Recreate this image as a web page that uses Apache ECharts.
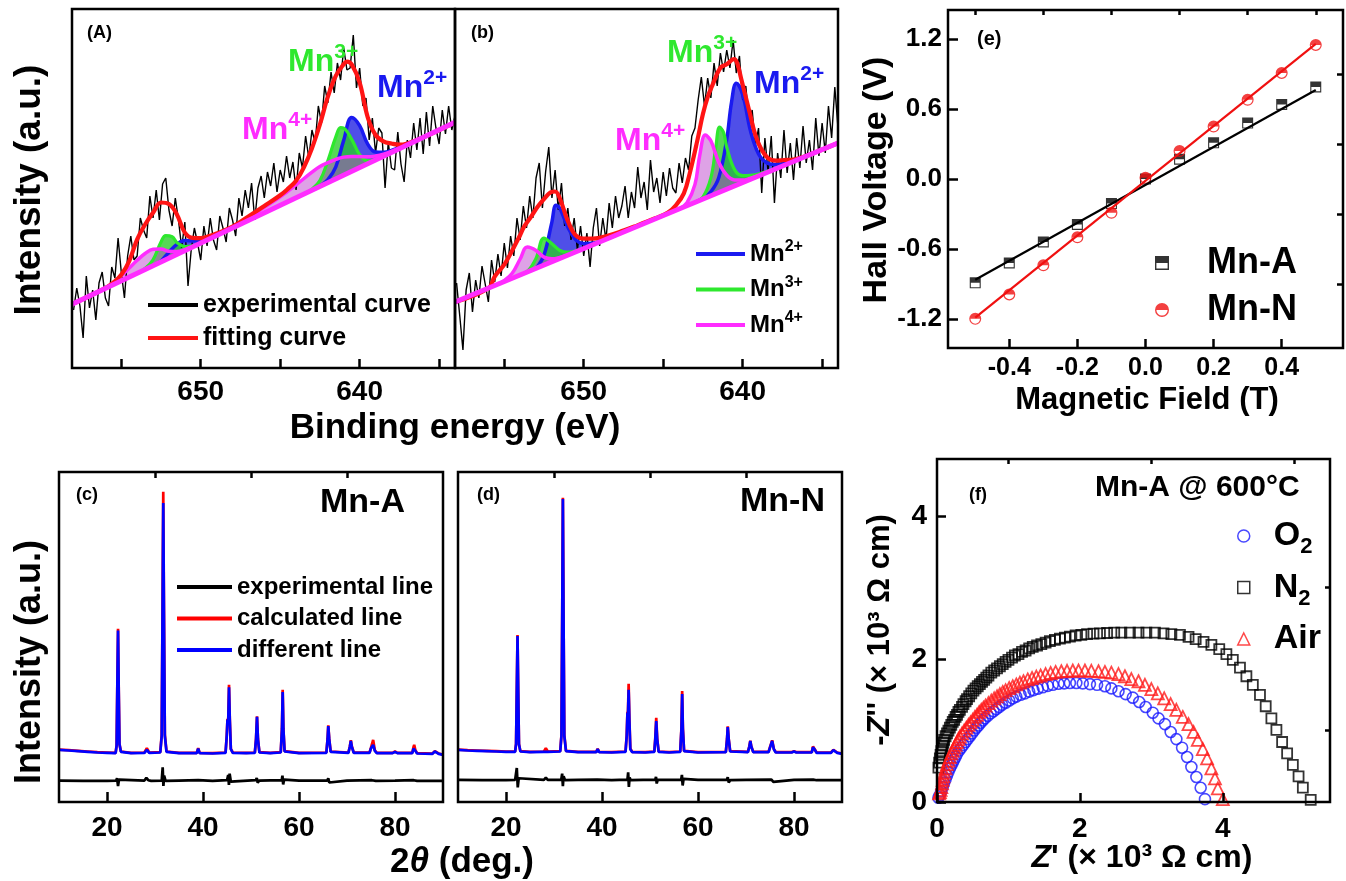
<!DOCTYPE html>
<html><head><meta charset="utf-8">
<script src="https://cdn.jsdelivr.net/npm/echarts@6.0.0/dist/echarts.min.js"></script>
<style>html,body{margin:0;padding:0;background:#fff}#c{width:1346px;height:881px}</style>
</head><body><div id="c"></div>
<script>
// ---------- XPS (A) and (b): binding energy grid and experimental curves ----------
const expE = [658.0,657.8,657.6,657.4,657.2,657.0,656.8,656.6,656.4,656.2,
656.0,655.8,655.6,655.4,655.2,655.0,654.8,654.6,654.4,654.2,
654.0,653.8,653.6,653.4,653.2,653.0,652.8,652.6,652.4,652.2,
652.0,651.8,651.6,651.4,651.2,651.0,650.8,650.6,650.4,650.2,
650.0,649.8,649.6,649.4,649.2,649.0,648.8,648.6,648.4,648.2,
648.0,647.8,647.6,647.4,647.2,647.0,646.8,646.6,646.4,646.2,
646.0,645.8,645.6,645.4,645.2,645.0,644.8,644.6,644.4,644.2,
644.0,643.8,643.6,643.4,643.2,643.0,642.8,642.6,642.4,642.2,
642.0,641.8,641.6,641.4,641.2,641.0,640.8,640.6,640.4,640.2,
640.0,639.8,639.6,639.4,639.2,639.0,638.8,638.6,638.4,638.2,
638.0,637.8,637.6,637.4,637.2,637.0,636.8,636.6,636.4,636.2,
636.0,635.8,635.6,635.4,635.2,635.0,634.8,634.6,634.4,634.2,
634.0];
const expA = [58,80,62,30,92,60,78,48,85,96,
70,62,101,90,130,96,70,112,132,108,
112,150,138,130,172,150,178,148,184,190,
158,142,170,148,120,146,82,118,140,125,
108,142,122,150,128,118,152,140,126,160,
148,132,170,152,178,160,185,148,180,192,
170,196,182,205,176,198,186,212,190,206,
178,215,200,232,210,238,225,262,245,282,
265,296,275,305,288,320,298,300,333,280,
300,262,270,228,250,215,240,235,180,226,
200,198,236,204,186,228,210,245,218,250,
214,256,222,262,240,224,258,234,262,238,
252];
const expB = [85,52,18,78,95,56,88,70,102,84,
66,108,86,114,92,125,100,132,112,150,
128,162,140,172,150,190,205,160,196,221,
170,198,158,185,142,160,128,150,118,142,
112,135,101,140,160,122,150,128,165,140,
172,150,162,182,150,176,160,201,170,186,
158,208,176,190,165,196,172,200,180,175,
205,185,210,198,232,240,268,291,262,290,
270,305,282,315,296,318,300,328,295,312,
268,282,245,258,222,240,175,230,196,232,
165,215,190,238,195,225,188,230,200,242,
205,228,198,250,212,245,215,262,230,281,
240];

// background (straight line) and fits, panel A
const bgA = [[658.1,63.8],[634,245.7]];
const fitA = [[658.1,63.8],[656,79.9],[655.5,85.4],[655,93.2],[654.5,106.9],[654,128.7],[653.5,143.5],[653,155.3],[652.5,165.5],[652,164],[651.5,153.6],[651,135.4],[650.5,130.1],[650,129.9],[649.5,131.7],[649,134.5],[648,141.5],[647,151.6],[646,162.1],[645,172.7],[644.5,179.4],[644,187.2],[643.5,201],[643,219.8],[642.5,243.5],[642,271.3],[641.5,292.1],[641,303.9],[640.8,306.4],[640.5,303.6],[640,285.4],[639.5,251.2],[639,233],[638.5,226.7],[638,224.5],[637.5,223.3],[637,224.6],[636,230.6],[634,245.7]];
const aMn4Main = [[649,132.5],[648,140.5],[647,150.1],[646,160.6],[645,171.2],[644,183.2],[643,195.8],[642.5,201.5],[642,205.3],[641.5,208.6],[641,210.9],[640.5,211.6],[640,211.4],[639.5,211.2],[639,212],[638.5,213.7],[638,216.5],[637,223.1]];
const aMn4Small = [[656.5,75.8],[656,80.1],[655.5,85.4],[655,92.2],[654.5,99.9],[654,107.7],[653.5,114.5],[653,118.8],[652.5,119],[652,116.8],[651.5,116.6],[651,118.4],[650.5,121.1]];
const aMn3Main = [[643.5,174],[643,178.8],[642.5,187.5],[642,207.3],[641.5,231.1],[641.2,240.4],[641,239.9],[640.5,228.6],[640,213.4],[639.5,207.2],[639,208.5],[638.5,211.7]];
const aMn3Small = [[654,94.7],[653.5,99.5],[653,108.3],[652.5,126],[652.2,132.3],[651.8,131.3],[651.5,125.6],[651,121.4],[650.5,122.1],[650,124.9]];
const aMn2Main = [[643,177.8],[642.5,182],[642,188.3],[641.5,201.1],[641,227.9],[640.5,250.6],[640,242.4],[639.5,224.2],[639,216],[638.5,215.7],[638,217.5],[637,223.6],[636,230.6]];
const aMn2Small = [[653,102.3],[652.5,107],[652,115.8],[651.5,123.6],[651,127.4],[650.5,127.1],[650,127.9],[649.5,129.7],[649,132.8],[648,140]];

// panel b
const bgB = [[658.1,66],[634,225]];
const fitB = [[658.1,66],[656,79.8],[655.6,91.5],[655,103.4],[654.6,114.6],[654,133],[653.75,141.3],[653.3,151.6],[652.9,161.2],[652.5,168.9],[652.1,175.5],[651.8,176.5],[651.5,169.5],[651.1,151.1],[650.7,136.8],[650.4,131.3],[650,129.4],[649.4,129.4],[648.5,132.3],[647.5,137.4],[646.8,141.5],[645.5,149.7],[644.7,155.4],[644.2,162.7],[643.7,174.6],[643.3,196.6],[642.85,227.6],[642.5,253.9],[642.2,270.9],[641.9,282.9],[641.4,300.2],[641,303.8],[640.55,308.8],[640.35,305.1],[640.1,289.8],[639.6,258.1],[639.1,228.4],[638.5,211.3],[637.9,207.3],[637.4,208],[636.8,208.5],[636.1,211.5],[634,225]];
const bMn2Main = [[643,165.6],[642.5,169.9],[642,176.2],[641.5,190.5],[641,228.8],[640.7,265.8],[640.4,284.8],[640,273.4],[639.5,236.7],[639,214],[638.5,205.3],[638,203.6],[637.5,204.4],[637,206.2],[636,211.8]];
const bMn2Small = [[653,99.6],[652.5,112.9],[652,146.2],[651.75,162.8],[651.5,159.5],[651,140.8],[650.5,128.1],[650,124.4],[649.5,124.7],[649,126.5],[648,132.6]];
const bMn3Main = [[643,165.6],[642.5,170.9],[642,190.2],[641.7,219.2],[641.45,240.8],[641.2,235.5],[641,220.8],[640.5,198.1],[640,192.4],[639.5,192.7],[639,194],[638,199.1],[637,205.2]];
const bMn3Small = [[654,93],[653.5,97.3],[653,109.6],[652.5,129.9],[652,124.2],[651.5,117.5],[651,115.8],[650.5,117.1],[650,119.4]];
const bMn4Main = [[644,159],[643.5,165.3],[643,183.6],[642.7,212.6],[642.35,232.9],[642,227.2],[641.5,205.5],[641,192.8],[640.5,188.1],[640,187.9],[639.5,189.7],[639,192]];
const bMn4Small = [[655.5,83.1],[655,87.4],[654.5,94.7],[654,109],[653.55,121],[653,117.6],[652.5,110.9],[652,109.2],[651.5,110.5],[651,112.8]];

// ---------- Hall voltage (e) ----------
const field = [-0.5,-0.4,-0.3,-0.2,-0.1,0.0,0.1,0.2,0.3,0.4,0.5];
const hallA = [-0.89,-0.72,-0.54,-0.39,-0.21,0.0,0.17,0.31,0.48,0.64,0.79];
const hallN = [-1.2,-0.99,-0.74,-0.5,-0.29,0.01,0.24,0.45,0.68,0.91,1.15];
const hallAFit = [[-0.5,-0.865],[0.5,0.763]];
const hallNFit = [[-0.5,-1.19],[0.5,1.16]];

// ---------- XRD (c) Mn-A ----------
const xrdCObs = [[10,15.8],[12,15.6],[14,15.4],[16,15.2],[18,15.0],[20,14.9],[21.8,14.8],[22.0,17],[22.15,35],[22.3,52],[22.45,33],[22.6,17.5],[22.9,15.2],[25,14.8],[27.8,14.9],[28.3,15.8],[28.8,14.9],[31.1,15],[31.4,20],[31.58,60],[31.72,90.6],[31.86,58],[32.05,20],[32.4,15.2],[35,14.8],[38.7,14.8],[39.0,16.2],[39.3,14.8],[42,14.7],[44.7,14.9],[44.95,20],[45.1,25],[45.25,24],[45.42,34.8],[45.58,25],[45.8,16],[46.2,14.9],[49,14.8],[50.8,14.9],[51.05,19],[51.25,25.8],[51.45,19],[51.75,15],[54,14.8],[56.2,15],[56.45,22],[56.6,33.3],[56.75,22],[57.0,15.3],[60,14.8],[65.7,14.9],[65.95,19],[66.1,23],[66.3,19],[66.6,15.2],[70.3,14.9],[70.6,16.8],[70.8,18.5],[71.0,16.8],[71.4,14.9],[74.7,14.9],[75.0,16.3],[75.45,17.3],[75.8,15.5],[76.2,14.8],[79.5,14.8],[80.0,15.2],[80.5,14.8],[83.6,14.8],[83.85,16.2],[84.0,16.5],[84.25,15.5],[84.6,14.7],[87.8,14.6],[88.3,15.3],[88.6,15.4],[89.1,14.6],[90,14.3]];
const xrdCCalc = [[10,15.9],[12,15.7],[14,15.5],[16,15.3],[18,15.1],[20,15.0],[21.8,14.9],[22.0,17.2],[22.15,35.5],[22.3,52.5],[22.45,33.5],[22.6,17.6],[22.9,15.3],[25,14.9],[27.8,15.0],[28.3,16.3],[28.8,15.0],[31.1,15.1],[31.4,20.5],[31.58,62],[31.72,94],[31.86,60],[32.05,20.5],[32.4,15.3],[35,14.9],[38.7,14.9],[39.0,16.3],[39.3,14.9],[42,14.8],[44.7,15.0],[44.95,20.2],[45.1,25.2],[45.25,24.3],[45.42,35.5],[45.58,25.3],[45.8,16.1],[46.2,15.0],[49,14.9],[50.8,15.0],[51.05,19.1],[51.25,26],[51.45,19.1],[51.75,15.1],[54,14.9],[56.2,15.1],[56.45,22.3],[56.6,34],[56.75,22.3],[57.0,15.4],[60,14.9],[65.7,15.0],[65.95,19.1],[66.1,23.2],[66.3,19.1],[66.6,15.3],[70.3,15.0],[70.6,16.9],[70.8,18.7],[71.0,16.9],[71.4,15.0],[74.7,15.0],[75.0,16.5],[75.45,18.8],[75.8,15.7],[76.2,14.9],[79.5,14.9],[80.0,15.3],[80.5,14.9],[83.6,14.9],[83.85,16.6],[84.0,17.3],[84.25,15.7],[84.6,14.8],[87.8,14.7],[88.3,15.4],[88.6,15.5],[89.1,14.7],[90,14.4]];
const xrdCDiff = [[10,6.5],[15,6.4],[20,6.4],[21.9,6.5],[22.1,7.2],[22.3,4.8],[22.5,6.8],[22.8,6.4],[27.8,6.5],[28.2,7.3],[28.6,6.6],[29.2,6.4],[31.4,6.5],[31.6,10.5],[31.75,4.9],[31.9,8.0],[32.2,6.4],[35,6.5],[39,6.6],[42,6.4],[45.0,6.6],[45.25,8.2],[45.4,5.2],[45.55,8.6],[45.8,6.2],[46.2,6.5],[51.0,6.6],[51.2,7.3],[51.4,5.8],[51.7,6.5],[56.4,6.6],[56.55,8.0],[56.7,5.3],[56.9,6.8],[57.2,6.4],[60,6.5],[65.9,6.5],[66.1,7.2],[66.3,5.9],[66.6,6.4],[70,6.5],[75.2,6.6],[75.4,7.0],[75.6,6.0],[76,6.4],[80,6.5],[83.9,6.6],[84.1,7.1],[84.3,6.1],[84.6,6.4],[88,6.4],[90,6.4]];

// ---------- XRD (d) Mn-N ----------
const xrdDObs = [[10,15.8],[12,15.6],[14,15.5],[16,15.4],[18,15.3],[20,15.2],[21.9,15.2],[22.1,17.5],[22.25,34],[22.4,50.3],[22.55,33],[22.7,17.5],[23.0,15.3],[25,15.1],[27.9,15.2],[28.3,15.8],[28.7,15.2],[31.3,15.3],[31.55,20],[31.72,58],[31.85,91.8],[31.98,58],[32.15,20],[32.5,15.4],[35,15.1],[38.8,15.1],[39.1,16.0],[39.4,15.1],[42,15],[44.9,15.2],[45.15,20],[45.3,27],[45.4,26],[45.55,34],[45.7,25],[45.9,16],[46.3,15.1],[49,15],[50.9,15.2],[51.1,19],[51.3,24.5],[51.5,19],[51.8,15.2],[54,15],[56.3,15.2],[56.55,22],[56.7,32.7],[56.85,22],[57.1,15.4],[60,15],[65.8,15.1],[66.05,19],[66.2,22.7],[66.4,19],[66.7,15.3],[70.4,15.1],[70.7,16.8],[70.9,18.5],[71.1,16.8],[71.5,15.1],[74.7,15.1],[75.0,16.5],[75.45,18.5],[75.8,16],[76.2,15],[79.5,15],[80.0,15.3],[80.5,15],[83.7,15],[83.95,16.6],[84.1,17],[84.35,15.8],[84.7,14.9],[87.7,14.9],[88.2,15.7],[88.5,15.8],[89.0,14.9],[90,14.6]];
const xrdDCalc = [[10,15.9],[12,15.7],[14,15.6],[16,15.5],[18,15.4],[20,15.3],[21.9,15.3],[22.1,17.7],[22.25,34.4],[22.4,50.6],[22.55,33.3],[22.7,17.6],[23.0,15.4],[25,15.2],[27.9,15.3],[28.3,16.3],[28.7,15.3],[31.3,15.4],[31.55,20.3],[31.72,58.5],[31.85,92.2],[31.98,58.5],[32.15,20.3],[32.5,15.5],[35,15.2],[38.8,15.2],[39.1,16.1],[39.4,15.2],[42,15.1],[44.9,15.3],[45.15,20.2],[45.3,27.3],[45.4,26.5],[45.55,35.8],[45.7,25.5],[45.9,16.2],[46.3,15.2],[49,15.1],[50.9,15.3],[51.1,19.3],[51.3,25.5],[51.5,19.3],[51.8,15.3],[54,15.1],[56.3,15.3],[56.55,22.4],[56.7,33.6],[56.85,22.4],[57.1,15.5],[60,15.1],[65.8,15.2],[66.05,19.1],[66.2,22.9],[66.4,19.1],[66.7,15.4],[70.4,15.2],[70.7,16.9],[70.9,18.6],[71.1,16.9],[71.5,15.2],[74.7,15.2],[75.0,16.6],[75.45,18.7],[75.8,16.1],[76.2,15.1],[79.5,15.1],[80.0,15.4],[80.5,15.1],[83.7,15.1],[83.95,16.8],[84.1,17.2],[84.35,15.9],[84.7,15.0],[87.7,15.0],[88.2,15.8],[88.5,15.9],[89.0,15.0],[90,14.7]];
const xrdDDiff = [[10,6.7],[15,6.6],[20,6.6],[21.9,6.7],[22.25,10.3],[22.45,4.4],[22.65,7.2],[22.9,6.6],[27.9,6.7],[28.3,7.4],[28.7,6.7],[31.5,6.7],[31.7,8.6],[31.85,4.8],[32.0,7.8],[32.3,6.6],[35,6.7],[39,6.8],[42,6.6],[45.3,6.8],[45.45,9.0],[45.6,4.6],[45.75,7.4],[46.0,6.6],[51.1,6.8],[51.25,7.6],[51.4,5.6],[51.6,6.7],[56.5,6.8],[56.65,8.2],[56.8,5.0],[57.0,7.0],[57.3,6.6],[60,6.7],[66.0,6.7],[66.2,7.5],[66.4,5.9],[66.7,6.6],[70,6.7],[75.3,6.8],[75.5,7.4],[75.7,6.1],[76,6.6],[80,6.7],[84.0,6.8],[84.2,7.4],[84.4,6.2],[84.7,6.6],[88,6.6],[90,6.6]];

// ---------- Impedance (f) ----------
const zO2 = [[0.02,0.06],[0.04,0.1],[0.06,0.15],[0.08,0.21],[0.10,0.27],[0.12,0.32],[0.14,0.37],[0.16,0.42],[0.18,0.47],[0.20,0.51],[0.22,0.55],[0.24,0.59],[0.26,0.63],[0.28,0.67],[0.31,0.72],[0.34,0.76],[0.37,0.80],[0.40,0.84],[0.43,0.88],[0.46,0.92],[0.49,0.96],[0.52,1.0],[0.55,1.04],[0.58,1.07],[0.61,1.11],[0.64,1.14],[0.67,1.17],[0.71,1.205],[0.75,1.24],[0.79,1.27],[0.83,1.30],[0.87,1.33],[0.91,1.36],[0.96,1.39],[1.01,1.42],[1.06,1.45],[1.11,1.475],[1.17,1.50],[1.23,1.52],[1.29,1.545],[1.35,1.565],[1.41,1.585],[1.48,1.605],[1.55,1.625],[1.62,1.64],[1.70,1.655],[1.78,1.66],[1.86,1.665],[1.95,1.665],[2.04,1.66],[2.14,1.65],[2.24,1.64],[2.35,1.62],[2.44,1.59],[2.54,1.55],[2.64,1.51],[2.74,1.46],[2.83,1.40],[2.92,1.33],[3.02,1.25],[3.10,1.17],[3.19,1.09],[3.27,0.98],[3.35,0.88],[3.43,0.76],[3.50,0.63],[3.56,0.49],[3.63,0.35],[3.69,0.20],[3.75,0.04]];
const zN2 = [[0.02,0.48],[0.03,0.55],[0.04,0.61],[0.05,0.66],[0.06,0.71],[0.07,0.75],[0.08,0.79],[0.09,0.83],[0.10,0.87],[0.12,0.92],[0.14,0.96],[0.16,1.0],[0.18,1.04],[0.20,1.08],[0.22,1.12],[0.24,1.15],[0.26,1.19],[0.28,1.22],[0.30,1.26],[0.32,1.29],[0.35,1.33],[0.37,1.37],[0.40,1.41],[0.42,1.44],[0.45,1.48],[0.48,1.52],[0.51,1.56],[0.54,1.59],[0.57,1.62],[0.60,1.65],[0.63,1.68],[0.66,1.71],[0.69,1.74],[0.72,1.77],[0.76,1.81],[0.80,1.84],[0.84,1.87],[0.88,1.90],[0.92,1.93],[0.96,1.96],[1.0,1.99],[1.05,2.02],[1.09,2.05],[1.14,2.07],[1.19,2.10],[1.24,2.12],[1.29,2.15],[1.34,2.17],[1.40,2.19],[1.46,2.21],[1.52,2.23],[1.58,2.25],[1.65,2.27],[1.72,2.285],[1.79,2.30],[1.86,2.315],[1.94,2.33],[2.02,2.34],[2.1,2.35],[2.19,2.355],[2.28,2.36],[2.38,2.365],[2.48,2.37],[2.58,2.37],[2.70,2.37],[2.82,2.37],[2.93,2.37],[3.05,2.37],[3.17,2.36],[3.28,2.35],[3.40,2.34],[3.52,2.31],[3.62,2.28],[3.73,2.24],[3.84,2.20],[3.95,2.14],[4.05,2.07],[4.14,1.99],[4.24,1.88],[4.33,1.76],[4.42,1.64],[4.52,1.50],[4.60,1.34],[4.68,1.17],[4.75,1.01],[4.83,0.84],[4.90,0.68],[4.98,0.52],[5.06,0.36],[5.12,0.20],[5.23,0.03]];
const zAir = [[0.03,0.12],[0.04,0.14],[0.05,0.17],[0.06,0.21],[0.07,0.26],[0.08,0.31],[0.09,0.36],[0.10,0.41],[0.12,0.47],[0.14,0.53],[0.16,0.58],[0.18,0.63],[0.20,0.68],[0.22,0.72],[0.24,0.76],[0.26,0.80],[0.28,0.84],[0.30,0.88],[0.32,0.915],[0.35,0.96],[0.38,1.0],[0.41,1.04],[0.44,1.08],[0.47,1.115],[0.50,1.15],[0.53,1.19],[0.56,1.22],[0.59,1.26],[0.62,1.29],[0.65,1.32],[0.68,1.35],[0.72,1.385],[0.76,1.42],[0.80,1.45],[0.84,1.48],[0.88,1.51],[0.92,1.54],[0.96,1.565],[1.01,1.595],[1.06,1.62],[1.11,1.645],[1.16,1.67],[1.21,1.69],[1.27,1.715],[1.33,1.735],[1.39,1.755],[1.45,1.77],[1.52,1.79],[1.59,1.805],[1.66,1.82],[1.74,1.83],[1.82,1.835],[1.90,1.84],[1.98,1.84],[2.07,1.84],[2.16,1.835],[2.26,1.83],[2.35,1.82],[2.44,1.81],[2.54,1.79],[2.63,1.76],[2.72,1.72],[2.82,1.69],[2.91,1.64],[3.0,1.58],[3.09,1.52],[3.18,1.45],[3.27,1.37],[3.35,1.29],[3.44,1.19],[3.52,1.09],[3.59,0.98],[3.65,0.87],[3.72,0.74],[3.78,0.61],[3.84,0.47],[3.89,0.33],[3.93,0.19],[4.0,0.04]];

// ---------- tick values ----------
const xpsLabels = [640, 650], xpsTicks = [635, 640, 645, 650, 655];
const hallXLabels = [-0.4,-0.2,0,0.2,0.4], hallXMinor = [-0.5,-0.3,-0.1,0.1,0.3,0.5];
const hallYLabels = [-1.2,-0.6,0,0.6,1.2], hallYMinor = [-0.9,-0.3,0.3,0.9];
const xrdLabels = [20,40,60,80], xrdMinor = [30,50,70];
const zLabels = [0,2,4], zXMinor = [1,3,5], zYMinor = [1,3];

// ================= build option =================
const FONT = '"Liberation Sans", Arial, Helvetica, sans-serif';
const BLUE = '#1a1af0', GREEN = '#2ee82e', MAG = '#ff2cff', RED = '#ff1414';
const FILL_B = 'rgba(30,30,225,0.78)', FILL_G = 'rgba(40,205,40,0.78)', FILL_M = 'rgba(190,70,205,0.5)';

function axis(gridIndex, min, max, o) {
  o = o || {};
  return {
    type: 'value', gridIndex: gridIndex, min: min, max: max, inverse: !!o.inverse, z: 6,
    axisLine: {show: false, onZero: false},
    splitLine: {show: false},
    axisTick: {show: !!o.ticks, inside: true, length: o.len || 8, customValues: o.ticks,
      lineStyle: {color: '#000', width: 2.5}},
    axisLabel: {show: !!o.labels, customValues: o.labels, fontSize: o.size || 28, fontWeight: 'bold',
      fontFamily: FONT, color: '#000', margin: o.margin || 8, formatter: o.fmt}
  };
}
const fmt1 = v => Number(v).toFixed(1);

const grids = [
  {left: 72, top: 9, width: 383, height: 359},   // A
  {left: 455, top: 9, width: 383, height: 359},  // b
  {left: 948, top: 10, width: 395, height: 338}, // e
  {left: 59, top: 472, width: 384, height: 330}, // c
  {left: 458, top: 472, width: 384, height: 330},// d
  {left: 937, top: 459, width: 393, height: 343} // f
].map(g => Object.assign(g, {show: true, borderColor: '#000', borderWidth: 2.5, backgroundColor: 'transparent', z: 5, containLabel: false, outerBoundsMode: 'none'}));

const xAxes = [
  axis(0, 634, 658.1, {inverse: true, ticks: xpsTicks, labels: xpsLabels, len: 9, size: 28, margin: 10}),
  axis(1, 634, 658.1, {inverse: true, ticks: xpsTicks, labels: xpsLabels, len: 9, size: 28, margin: 10}),
  axis(2, -0.58, 0.58, {ticks: hallXLabels, labels: hallXLabels, len: 9, size: 25, margin: 8, fmt: fmt1}),
  axis(2, -0.58, 0.58, {ticks: hallXMinor, len: 5}),
  axis(3, 10, 90, {ticks: xrdLabels, labels: xrdLabels, len: 10, size: 28, margin: 12}),
  axis(3, 10, 90, {ticks: xrdMinor, len: 6}),
  axis(4, 10, 90, {ticks: xrdLabels, labels: xrdLabels, len: 10, size: 28, margin: 12}),
  axis(4, 10, 90, {ticks: xrdMinor, len: 6}),
  axis(5, 0, 5.5, {ticks: zLabels, labels: zLabels, len: 9, size: 28, margin: 13}),
  axis(5, 0, 5.5, {ticks: zXMinor, len: 5})
];
const yAxes = [
  axis(0, 0, 359, {}),
  axis(1, 0, 359, {}),
  axis(2, -1.45, 1.45, {ticks: hallYLabels, labels: hallYLabels, len: 10, size: 26, margin: 6, fmt: fmt1}),
  axis(2, -1.45, 1.45, {ticks: hallYMinor, len: 6}),
  axis(3, 0, 100, {}),
  axis(4, 0, 100, {}),
  axis(5, 0, 4.8, {ticks: zLabels, labels: zLabels, len: 9, size: 28, margin: 10}),
  axis(5, 0, 4.8, {ticks: zYMinor, len: 5})
];

function area(data, xi, color) {
  return {type: 'line', xAxisIndex: xi, yAxisIndex: xi, data: data, smooth: 0.4, symbol: 'none', silent: true,
    lineStyle: {width: 0, opacity: 0}, areaStyle: {color: color, opacity: 1}};
}
function curve(name, data, xi, yi, color, width, smooth) {
  const s = {type: 'line', xAxisIndex: xi, yAxisIndex: yi, data: data, smooth: smooth, symbol: 'none', silent: true,
    itemStyle: {color: color}, lineStyle: {color: color, width: width}};
  if (name) s.name = name;
  return s;
}
const pairs = (xs, ys) => ys.map((v, i) => [xs[i], v]);

const series = [];
function xpsPanel(i, exp, bg, fit, m2a, m2b, m3a, m3b, m4a, m4b, named) {
  series.push(area(m2a, i, FILL_B), area(m2b, i, FILL_B), area(m3a, i, FILL_G), area(m3b, i, FILL_G),
              area(m4a, i, FILL_M), area(m4b, i, FILL_M));
  // white cover below the background line
  series.push({type: 'line', xAxisIndex: i, yAxisIndex: i, data: bg, symbol: 'none', silent: true,
    lineStyle: {width: 0, opacity: 0}, areaStyle: {color: '#fff', opacity: 1}});
  series.push(curve(named ? null : 'experimental curve', pairs(expE, exp), i, i, '#000', 1.4, false));
  series.push(curve(named ? 'Mn2+' : null, m2a, i, i, BLUE, 3.5, 0.4), curve(null, m2b, i, i, BLUE, 3.5, 0.4));
  series.push(curve(named ? 'Mn3+' : null, m3a, i, i, GREEN, 3.2, 0.4), curve(null, m3b, i, i, GREEN, 3.2, 0.4));
  series.push(curve(named ? 'Mn4+' : null, m4a, i, i, MAG, 3.5, 0.4), curve(null, m4b, i, i, MAG, 3.5, 0.4));
  series.push(curve(named ? null : 'fitting curve', fit, i, i, RED, 4.2, 0.4));
  series.push(curve(null, bg, i, i, MAG, 5, false));
}
xpsPanel(0, expA, bgA, fitA, aMn2Main, aMn2Small, aMn3Main, aMn3Small, aMn4Main, aMn4Small, false);
xpsPanel(1, expB, bgB, fitB, bMn2Main, bMn2Small, bMn3Main, bMn3Small, bMn4Main, bMn4Small, true);

// Hall panel
const HALF_SQ = 'path://M0,0H20V20H0ZM2,10V18H18V10Z';
const HALF_CI = 'path://M0,10A10,10 0 1,1 20,10A10,10 0 1,1 0,10ZM2,10A8,8 0 0,0 18,10Z';
series.push(curve(null, hallAFit, 2, 2, '#000', 2.2, false));
series.push(curve(null, hallNFit, 2, 2, '#f01010', 2.2, false));
series.push({type: 'scatter', name: 'Mn-A', xAxisIndex: 2, yAxisIndex: 2, data: pairs(field, hallA),
  symbol: HALF_SQ, symbolSize: 11, itemStyle: {color: '#000'}, silent: true});
series.push({type: 'scatter', name: 'Mn-N', xAxisIndex: 2, yAxisIndex: 2, data: pairs(field, hallN),
  symbol: HALF_CI, symbolSize: 12, itemStyle: {color: '#f01010'}, silent: true});

// XRD panels
series.push(curve('calculated line', xrdCCalc, 4, 4, '#ff0000', 2.7, false));
series.push(curve('different line', xrdCObs, 4, 4, '#0000ff', 2.7, false));
series.push(curve('experimental line', xrdCDiff, 4, 4, '#000', 2.7, false));
series.push(curve(null, xrdDCalc, 6, 5, '#ff0000', 2.7, false));
series.push(curve(null, xrdDObs, 6, 5, '#0000ff', 2.7, false));
series.push(curve(null, xrdDDiff, 6, 5, '#000', 2.7, false));

// Impedance panel
function hollow(name, data, symbol, size, color, bw) {
  return {type: 'scatter', name: name, xAxisIndex: 8, yAxisIndex: 6, data: data, symbol: symbol, symbolSize: size,
    silent: true, itemStyle: {color: 'rgba(0,0,0,0)', borderColor: color, borderWidth: bw}};
}
series.push(hollow('O2', zO2, 'circle', 11, '#1a1aff', 1.6));
series.push(hollow('N2', zN2, 'rect', 10, '#000', 1.8));
series.push(hollow('Air', zAir, 'triangle', 12, '#ff1a1a', 1.8));

// ---------- legends ----------
const baseText = {fontFamily: FONT, fontWeight: 'bold', color: '#000'};
const legends = [
  {left: 148, top: 291, orient: 'vertical', icon: 'rect', itemWidth: 50, itemHeight: 4, itemGap: 5, padding: 0,
   selectedMode: false, data: ['experimental curve', 'fitting curve'],
   textStyle: Object.assign({fontSize: 25, lineHeight: 28}, baseText)},
  {left: 696, top: 239, orient: 'vertical', icon: 'rect', itemWidth: 49, itemHeight: 4, itemGap: 5.5, padding: 0,
   selectedMode: false, data: ['Mn2+', 'Mn3+', 'Mn4+'],
   formatter: n => '{m|Mn}{s|' + n.slice(2) + '}',
   textStyle: Object.assign({fontSize: 24, lineHeight: 30, rich: {
     m: Object.assign({fontSize: 24, lineHeight: 30}, baseText),
     s: Object.assign({fontSize: 16, lineHeight: 16, verticalAlign: 'top'}, baseText)}}, baseText)},
  {left: 177, top: 573, orient: 'vertical', icon: 'rect', itemWidth: 55, itemHeight: 4, itemGap: 3.5, padding: 0,
   selectedMode: false, data: ['experimental line', 'calculated line', 'different line'],
   textStyle: Object.assign({fontSize: 24, lineHeight: 28}, baseText)},
  {left: 1155, top: 243, orient: 'vertical', itemWidth: 80, itemHeight: 14, itemGap: 7, padding: 0,
   selectedMode: false, data: ['Mn-A', 'Mn-N'],
   textStyle: Object.assign({fontSize: 36, lineHeight: 40}, baseText)},
  {left: 1237, top: 514, orient: 'vertical', itemWidth: 12, itemHeight: 12, itemGap: 7.5, padding: 0,
   selectedMode: false, data: ['O2', 'N2', 'Air'], itemStyle: {borderWidth: 1.5},
   formatter: n => n === 'Air' ? '{m|Air}' : '{m|' + n[0] + '}{s|2}',
   textStyle: Object.assign({fontSize: 34, lineHeight: 44, rich: {
     m: Object.assign({fontSize: 34, lineHeight: 44, padding: [0, 0, 0, 19]}, baseText),
     s: Object.assign({fontSize: 22, lineHeight: 22, verticalAlign: 'bottom'}, baseText)}}, baseText)}
];

// ---------- text annotations ----------
function txt(x, y, text, size, extra) {
  const st = Object.assign({text: text, fontSize: size, fontWeight: 'bold', fontFamily: FONT, fill: '#000',
    align: 'left', verticalAlign: 'middle', textAlign: 'left', textVerticalAlign: 'middle'}, (extra && extra.style) || {});
  const el = {type: 'text', x: x, y: y, z: 100, silent: true, style: st};
  if (extra && extra.rotation) el.rotation = extra.rotation;
  return el;
}
function richTok(size, o) {
  return Object.assign({fontSize: size, fontWeight: 'bold', fontFamily: FONT, fill: '#000', color: '#000'}, o || {});
}
function mnLabel(x, y, sup, color) {
  return txt(x, y, '{m|Mn}{s|' + sup + '}', 32, {style: {rich: {
    m: richTok(32, {fill: color, color: color, lineHeight: 40}),
    s: richTok(21, {fill: color, color: color, lineHeight: 20, verticalAlign: 'top'})}}});
}
const C = {align: 'center', textAlign: 'center'};
const ROT = Math.PI / 2;
const graphics = [
  txt(87, 33, '(A)', 18), txt(471, 33, '(b)', 18), txt(977, 39, '(e)', 20),
  txt(76, 495, '(c)', 18), txt(477, 495, '(d)', 18), txt(969, 495, '(f)', 18),
  txt(320, 503, 'Mn-A', 34), txt(740, 502, 'Mn-N', 34),
  txt(1095, 488, 'Mn-A @ 600°C', 30),
  txt(30, 190, 'Intensity (a.u.)', 37, {rotation: ROT, style: C}),
  txt(30, 662, 'Intensity (a.u.)', 36, {rotation: ROT, style: C}),
  txt(455, 428, 'Binding energy (eV)', 35, {style: C}),
  txt(462, 862, '{n|2}{t|θ }{n|(deg.)}', 35, {style: Object.assign({rich: {n: richTok(35), t: richTok(35, {fontStyle: 'italic'})}}, C)}),
  txt(877, 180, 'Hall Voltage (V)', 34, {rotation: ROT, style: C}),
  txt(1147, 400, 'Magnetic Field (T)', 31, {style: C}),
  txt(1142, 858, "{i|Z}{n|' (× 10³ Ω cm)}", 32, {style: Object.assign({rich: {n: richTok(32), i: richTok(32, {fontStyle: 'italic'})}}, C)}),
  txt(880, 630, "{n|-}{i|Z}{n|'' (× 10³ Ω cm)}", 31, {rotation: ROT, style: Object.assign({rich: {n: richTok(31), i: richTok(31, {fontStyle: 'italic'})}}, C)}),
  mnLabel(288, 62, '3+', GREEN), mnLabel(377, 88, '2+', BLUE), mnLabel(242, 130, '4+', MAG),
  mnLabel(667, 53, '3+', GREEN), mnLabel(754, 84, '2+', BLUE), mnLabel(615, 141, '4+', MAG)
];

const option = {
  backgroundColor: '#fff',
  animation: false,
  textStyle: {fontFamily: FONT, fontWeight: 'bold'},
  grid: grids, xAxis: xAxes, yAxis: yAxes, series: series, legend: legends,
  graphic: {elements: graphics}
};
const chart = echarts.init(document.getElementById('c'));
chart.setOption(option);
</script></body></html>
